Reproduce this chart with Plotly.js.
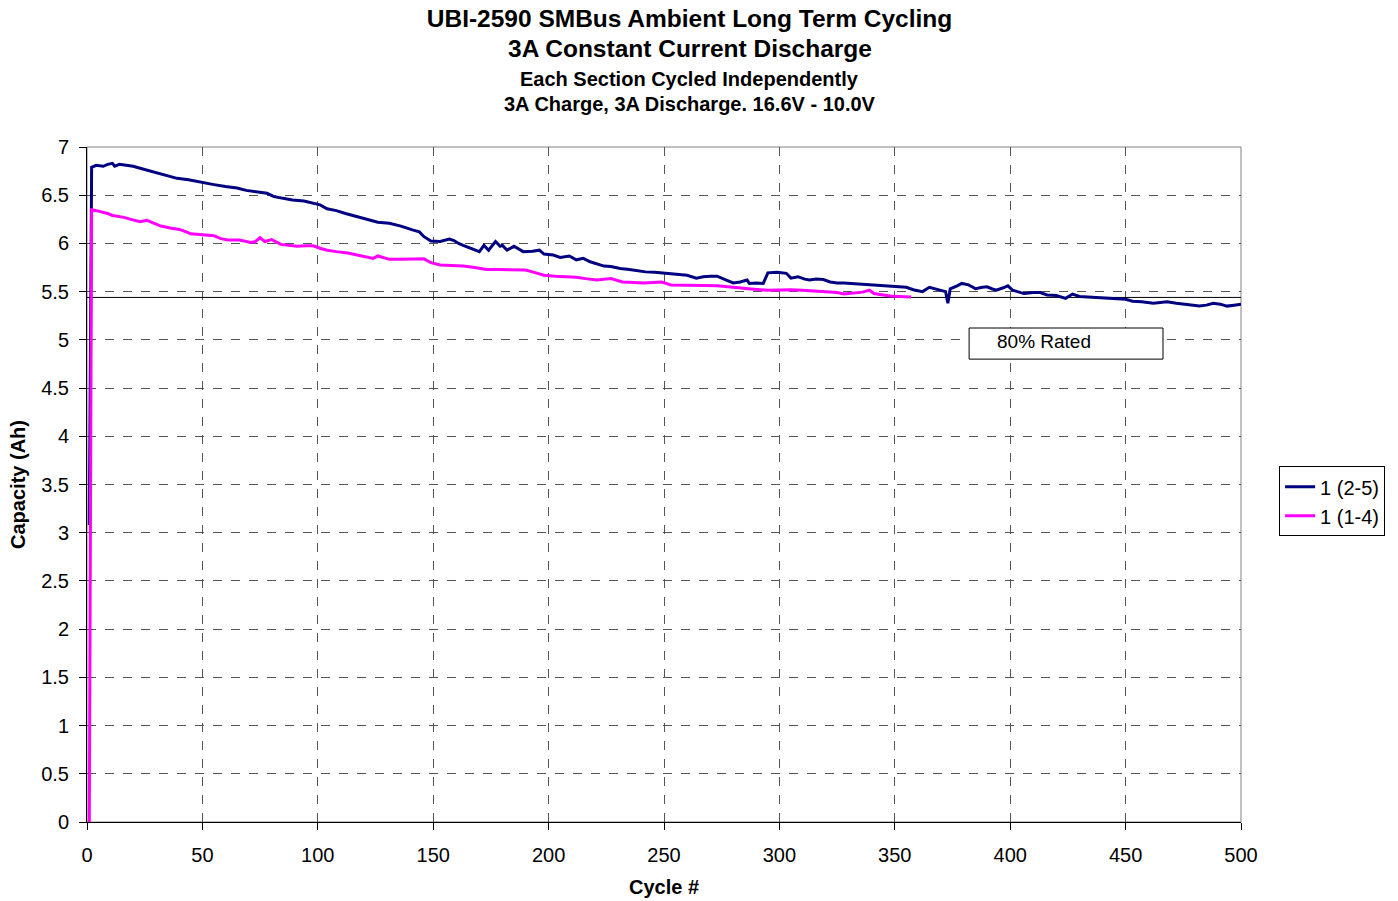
<!DOCTYPE html>
<html>
<head>
<meta charset="utf-8">
<script src="https://cdn.plot.ly/plotly-3.0.1.min.js"></script>
<style>html,body{margin:0;padding:0;background:#fff;}#chart{width:1398px;height:901px;}</style>
</head>
<body>
<div id="chart"></div>
<script>
// Series "1 (2-5)" (navy)
const cyclesA = [1,2,4,7,9,11,12,14,17,20,23,26,30,34,37,39,44,50,55,60,65,69,74,78,81,85,89,94,98,101,104,108,112,117,121,126,131,136,141,144,146,149,153,155,157,159,161,163,166,170,172,174,177,179,180,182,185,187,189,193,196,198,202,205,209,212,215,218,221,224,227,231,235,238,242,246,250,253,256,260,264,267,270,273,277,280,283,286,287,290,293,295,299,303,305,308,311,313,316,319,322,325,328,331,334,338,341,345,348,351,355,358,362,365,367,370,372,373,374,377,379,382,385,388,390,392,394,397,399,401,404,406,410,413,416,420,424,427,430,433,436,439,443,448,450,453,457,462,465,468,472,475,479,482,485,488,491,494,497,500];
const capA = [3.08,6.79,6.81,6.80,6.82,6.83,6.80,6.82,6.81,6.80,6.78,6.76,6.74,6.71,6.69,6.675,6.66,6.63,6.61,6.59,6.575,6.55,6.535,6.52,6.485,6.47,6.45,6.44,6.42,6.40,6.36,6.34,6.31,6.28,6.25,6.22,6.21,6.18,6.14,6.12,6.07,6.025,6.02,6.03,6.045,6.03,6.00,5.98,5.955,5.915,5.98,5.93,6.02,5.97,5.98,5.93,5.97,5.94,5.915,5.92,5.93,5.89,5.88,5.855,5.87,5.83,5.845,5.81,5.79,5.765,5.76,5.74,5.73,5.72,5.705,5.70,5.69,5.685,5.68,5.67,5.64,5.655,5.66,5.66,5.62,5.59,5.60,5.62,5.585,5.59,5.585,5.695,5.70,5.69,5.64,5.655,5.63,5.62,5.63,5.625,5.60,5.59,5.59,5.585,5.575,5.57,5.565,5.56,5.555,5.55,5.545,5.52,5.50,5.545,5.53,5.51,5.50,5.38,5.53,5.56,5.585,5.57,5.53,5.545,5.55,5.53,5.515,5.54,5.56,5.515,5.49,5.48,5.49,5.49,5.465,5.46,5.43,5.475,5.45,5.445,5.44,5.435,5.43,5.42,5.42,5.40,5.395,5.38,5.39,5.395,5.38,5.37,5.36,5.35,5.36,5.38,5.37,5.35,5.36,5.37];

// Series "1 (1-4)" (magenta)
const cyclesB = [1,2,4,6,9,11,14,16,19,23,26,28,32,36,40,43,45,50,55,58,61,66,71,73,75,77,80,84,88,91,95,98,101,104,108,113,117,121,124,126,128,131,136,140,146,149,153,158,163,168,173,178,183,190,193,198,203,208,212,216,221,227,232,237,241,245,249,253,257,261,267,273,279,284,289,295,300,305,310,314,318,322,325,328,331,334,336,339,341,345,348,352,357];
const capB = [0,6.35,6.34,6.33,6.31,6.29,6.28,6.27,6.25,6.225,6.24,6.22,6.18,6.16,6.145,6.12,6.10,6.09,6.08,6.05,6.035,6.035,6.01,6.02,6.06,6.02,6.04,5.99,5.98,5.97,5.975,5.975,5.95,5.93,5.915,5.90,5.88,5.86,5.845,5.87,5.855,5.835,5.835,5.835,5.84,5.80,5.776,5.77,5.765,5.75,5.73,5.73,5.73,5.725,5.705,5.67,5.66,5.655,5.65,5.635,5.62,5.635,5.60,5.595,5.59,5.595,5.60,5.57,5.57,5.57,5.565,5.56,5.545,5.53,5.525,5.515,5.52,5.52,5.515,5.51,5.505,5.50,5.49,5.475,5.485,5.49,5.495,5.515,5.48,5.465,5.455,5.45,5.445];

const seriesNames = ["1 (2-5)", "1 (1-4)"];
const ratedCapacity = 5.44;
const ratedLabel = "80% Rated";
const xTicks = [0,50,100,150,200,250,300,350,400,450,500];
const yTicks = [0,0.5,1,1.5,2,2.5,3,3.5,4,4.5,5,5.5,6,6.5,7];
const titleLines = [
  "UBI-2590 SMBus Ambient Long Term Cycling",
  "3A Constant Current Discharge",
  "Each Section Cycled Independently",
  "3A Charge, 3A Discharge. 16.6V - 10.0V"
];

const FONT = "Liberation Sans, Arial, sans-serif";

const traces = [
  {x: cyclesA, y: capA, name: seriesNames[0], type: "scatter", mode: "lines",
   line: {color: "#000080", width: 3}},
  {x: cyclesB, y: capB, name: seriesNames[1], type: "scatter", mode: "lines",
   line: {color: "#FF00FF", width: 3}}
];

const axisCommon = {
  showgrid: true, gridcolor: "#555555", griddash: "dash", gridwidth: 1,
  zeroline: false, showline: true, linecolor: "#000", linewidth: 1,
  ticks: "outside", ticklen: 7, tickcolor: "#000",
  tickfont: {family: FONT, size: 20, color: "#000"}
};

const layout = {
  width: 1398, height: 901,
  paper_bgcolor: "#fff", plot_bgcolor: "#fff",
  margin: {l: 87, r: 157, t: 147, b: 79},
  font: {family: FONT, color: "#000"},
  title: {text: "<b>" + titleLines[0] + "</b>", x: 0.4932, xanchor: "center",
          y: 1 - 18/901, yanchor: "middle", xref: "container", yref: "container",
          font: {family: FONT, size: 24.5, color: "#000"}},
  xaxis: Object.assign({}, axisCommon, {
    range: [0, 500], tickvals: xTicks, ticktext: xTicks.map(String),
    ticklabelstandoff: 8,
    title: {text: "<b>Cycle #</b>", font: {family: FONT, size: 20, color: "#000"}, standoff: 14}
  }),
  yaxis: Object.assign({}, axisCommon, {
    range: [0, 7], tickvals: yTicks, ticktext: yTicks.map(String),
    ticklabelstandoff: 6,
    title: {text: "<b>Capacity (Ah)</b>", font: {family: FONT, size: 20, color: "#000"}, standoff: 10}
  }),
  showlegend: true,
  legend: {x: 1.033, y: 0.527, xanchor: "left", yanchor: "top",
           bgcolor: "#fff", bordercolor: "#000", borderwidth: 1,
           font: {family: FONT, size: 20, color: "#000"}, tracegroupgap: 0},
  shapes: [
    {type: "line", xref: "x", yref: "y", x0: 0, x1: 500, y0: ratedCapacity, y1: ratedCapacity,
     line: {color: "#000", width: 1}, layer: "between"},
    {type: "rect", xref: "x", yref: "y", x0: 382.2, x1: 466.2, y0: 4.80, y1: 5.123,
     fillcolor: "#fff", line: {color: "#000", width: 1}, layer: "between"},
    {type: "rect", xref: "paper", yref: "paper", x0: 0, x1: 1, y0: 0, y1: 1,
     line: {color: "#808080", width: 1}, layer: "below"}
  ],
  annotations: [
    {text: ratedLabel, xref: "x", yref: "y", x: 414.6, y: 4.988, showarrow: false,
     font: {family: FONT, size: 19, color: "#000"}},
    {text: "<b>" + titleLines[1] + "</b>", xref: "paper", yref: "paper", x: 0.5221, y: 1.1452,
     xanchor: "center", yanchor: "middle",
     showarrow: false, font: {family: FONT, size: 24.5, color: "#000"}},
    {text: "<b>" + titleLines[2] + "</b>", xref: "paper", yref: "paper", x: 0.5221, y: 1.1007,
     xanchor: "center", yanchor: "middle",
     showarrow: false, font: {family: FONT, size: 20, color: "#000"}},
    {text: "<b>" + titleLines[3] + "</b>", xref: "paper", yref: "paper", x: 0.5221, y: 1.0637,
     xanchor: "center", yanchor: "middle",
     showarrow: false, font: {family: FONT, size: 20, color: "#000"}}
  ]
};

Plotly.newPlot("chart", traces, layout, {displayModeBar: false, staticPlot: true});
</script>
</body>
</html>
